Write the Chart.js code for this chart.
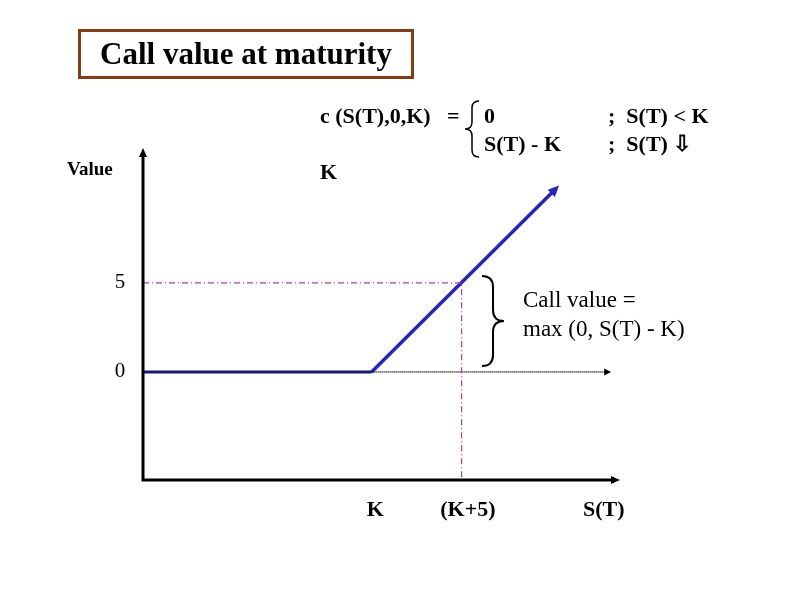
<!DOCTYPE html>
<html>
<head>
<meta charset="utf-8">
<script src="https://cdn.jsdelivr.net/npm/chart.js@4/dist/chart.umd.min.js"></script>
<style>
  body { margin: 0; background: #fff; }
  #wrap { position: relative; width: 792px; height: 612px; }
  #title {
    position: absolute; left: 78px; top: 29px; width: 330px; height: 44px;
    border: 3px solid #8b3a12; font: bold 31px "Liberation Serif", serif;
    text-align: center; line-height: 44px; color: #000;
  }
</style>
</head>
<body>
<div id="wrap">
  <canvas id="chart" width="792" height="612"></canvas>
  <div id="title">Call value at maturity</div>
</div>
<script>
// axis ranges (S(T) units on x, value units on y)
const xRange = [0, 26.5];
const yRange = [-6.07, 12.58];
const strike = 12.7;

// payoff: flat at 0 up to K, then S(T) - K
const flatX = [0, 12.7];
const flatY = [0, 0];
const riseX = [12.7, 22.95];
const riseY = [0, 10.3];

// guide for the (K+5) -> 5 reading
const guideX = [0, 17.7, 17.7];
const guideY = [5, 5, -6.07];

// dotted zero line from K
const zeroX = [12.7, 25.9];
const zeroY = [0, 0];

const yTicks = [0, 5];
const yTickLabels = ["0", "5"];
const xLabels = ["K", "(K+5)", "S(T)"];
const xLabelPos = [12.9, 18.05, 25.6];

function pts(xs, ys) {
  return xs.map((x, i) => ({ x: x, y: ys[i] }));
}

function arrowHead(ctx, x, y, ang, len, half, color) {
  ctx.save();
  ctx.translate(x, y);
  ctx.rotate(ang);
  ctx.fillStyle = color;
  ctx.beginPath();
  ctx.moveTo(0, 0);
  ctx.lineTo(-len, -half);
  ctx.lineTo(-len, half);
  ctx.closePath();
  ctx.fill();
  ctx.restore();
}

const drawings = {
  id: "drawings",
  afterDatasetsDraw(chart) {
    const ctx = chart.ctx;
    const xs = chart.scales.x, ys = chart.scales.y;
    const px = v => xs.getPixelForValue(v);
    const py = v => ys.getPixelForValue(v);
    const x0 = px(0), yb = py(yRange[0]);

    ctx.save();
    // axes
    ctx.strokeStyle = "#000";
    ctx.lineWidth = 3;
    ctx.beginPath();
    ctx.moveTo(x0, py(yRange[1]) + 6);
    ctx.lineTo(x0, yb);
    ctx.lineTo(px(xRange[1]) - 6, yb);
    ctx.stroke();
    arrowHead(ctx, x0, py(yRange[1]), -Math.PI / 2, 9, 4, "#000");
    arrowHead(ctx, px(xRange[1]), yb, 0, 9, 4, "#000");
    // zero line arrow
    arrowHead(ctx, px(zeroX[1]) + 2, py(0), 0, 7, 3.5, "#000");
    // payoff arrow
    const ang = Math.atan2(py(riseY[1]) - py(riseY[0]), px(riseX[1]) - px(riseX[0]));
    arrowHead(ctx, px(riseX[1]) + 3, py(riseY[1]) - 3, ang, 11, 5, "#2323c6");

    // tick labels
    ctx.fillStyle = "#000";
    ctx.font = '21px "Liberation Serif", serif';
    ctx.textAlign = "center";
    ctx.textBaseline = "middle";
    yTicks.forEach((t, i) => ctx.fillText(yTickLabels[i], 120, py(t)));

    ctx.font = 'bold 22px "Liberation Serif", serif';
    xLabels.forEach((l, i) => ctx.fillText(l, px(xLabelPos[i]), 510));

    ctx.font = 'bold 19px "Liberation Serif", serif';
    ctx.textAlign = "left";
    ctx.fillText("Value", 67, 170);

    // formula
    ctx.font = 'bold 22px "Liberation Serif", serif';
    ctx.fillText("c (S(T),0,K)   =", 320, 117);
    ctx.fillText("0", 484, 117);
    ctx.fillText("S(T) - K", 484, 145);
    ctx.fillText(";  S(T) < K", 608, 117);
    ctx.fillText(";  S(T) \u21E9", 608, 145);
    ctx.fillText("K", 320, 173);

    // small brace for formula (opens right)
    ctx.lineWidth = 1.5;
    ctx.beginPath();
    const bx = 479, bt = 101, bbt = 157, bm = 129, bw = 14;
    ctx.moveTo(bx, bt);
    ctx.quadraticCurveTo(bx - bw / 2, bt, bx - bw / 2, bt + 7);
    ctx.lineTo(bx - bw / 2, bm - 7);
    ctx.quadraticCurveTo(bx - bw / 2, bm, bx - bw, bm);
    ctx.quadraticCurveTo(bx - bw / 2, bm, bx - bw / 2, bm + 7);
    ctx.lineTo(bx - bw / 2, bbt - 7);
    ctx.quadraticCurveTo(bx - bw / 2, bbt, bx, bbt);
    ctx.stroke();

    // brace for call value (opens left)
    ctx.lineWidth = 2;
    ctx.beginPath();
    const cx = 482, ct = 276, cb = 366, cm = 321, cw = 22;
    ctx.moveTo(cx, ct);
    ctx.quadraticCurveTo(cx + cw / 2, ct, cx + cw / 2, ct + 11);
    ctx.lineTo(cx + cw / 2, cm - 11);
    ctx.quadraticCurveTo(cx + cw / 2, cm, cx + cw, cm);
    ctx.quadraticCurveTo(cx + cw / 2, cm, cx + cw / 2, cm + 11);
    ctx.lineTo(cx + cw / 2, cb - 11);
    ctx.quadraticCurveTo(cx + cw / 2, cb, cx, cb);
    ctx.stroke();

    ctx.font = '23px "Liberation Serif", serif';
    ctx.fillText("Call value =", 523, 301);
    ctx.fillText("max (0, S(T) - K)", 523, 330);
    ctx.restore();
  }
};

new Chart(document.getElementById("chart"), {
  type: "scatter",
  data: {
    datasets: [
      {
        data: pts(guideX, guideY), showLine: true, pointRadius: 0,
        borderColor: "#b03cb0", borderWidth: 1.2, borderDash: [6, 3, 1, 3]
      },
      {
        data: pts(zeroX, zeroY), showLine: true, pointRadius: 0,
        borderColor: "#000", borderWidth: 1.5, borderDash: [1, 1]
      },
      {
        data: pts(flatX, flatY), showLine: true, pointRadius: 0,
        borderColor: "#14147a", borderWidth: 3
      },
      {
        data: pts(riseX, riseY), showLine: true, pointRadius: 0,
        borderColor: "#2323c6", borderWidth: 3.5
      }
    ]
  },
  options: {
    responsive: false,
    animation: false,
    layout: { padding: { left: 143, right: 172, top: 148, bottom: 132 } },
    plugins: { legend: { display: false }, tooltip: { enabled: false } },
    scales: {
      x: { type: "linear", min: xRange[0], max: xRange[1], display: false },
      y: { type: "linear", min: yRange[0], max: yRange[1], display: false }
    }
  },
  plugins: [drawings]
});
</script>
</body>
</html>
